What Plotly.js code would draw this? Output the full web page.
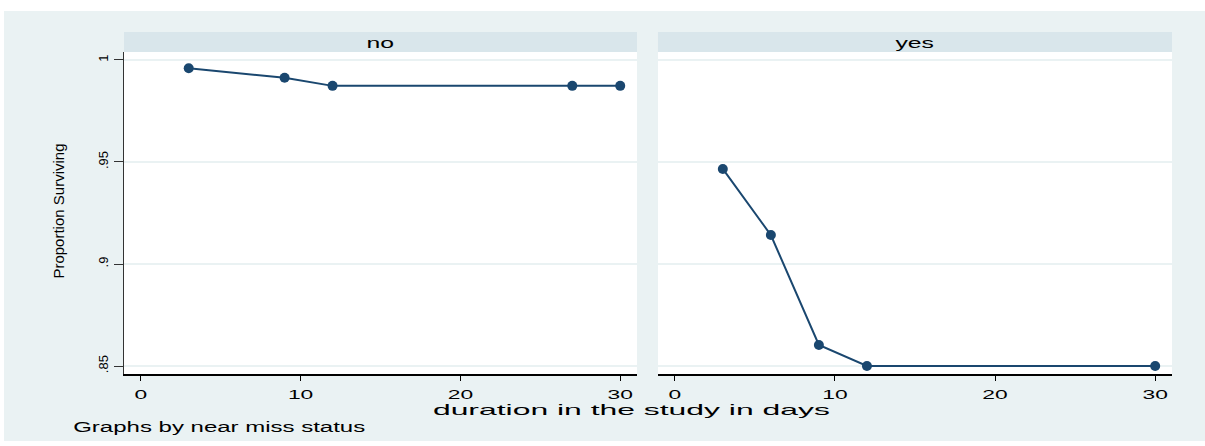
<!DOCTYPE html>
<html>
<head>
<meta charset="utf-8">
<script src="https://cdn.plot.ly/plotly-3.0.1.min.js"></script>
<style>
  html, body { margin: 0; padding: 0; background: #ffffff; }
  #chart { position: absolute; left: 4px; top: 11px; width: 1201px; height: 430px; }
</style>
</head>
<body>
<div id="chart"></div>
<script>
// ---- data ----
const panelNames = ["no", "yes"];
const daysNo = [3, 9, 12, 27, 30];
const survNo = [0.9959, 0.9913, 0.9873, 0.9873, 0.9873];
const daysYes = [3, 6, 9, 12, 30];
const survYes = [0.9466, 0.9142, 0.8603, 0.8500, 0.8500];
const xTickVals = [0, 10, 20, 30];
const yTickVals = [0.85, 0.9, 0.95, 1];
const yTickText = [".85", ".9", ".95", "1"];
const xTitle = "duration in the study in days";
const yTitle = "Proportion Surviving";
const note = "Graphs by near miss status";

const navy = "#1a476f";
const FONT = "Liberation Sans, Arial, Helvetica, sans-serif";

const traces = [
  { x: daysNo, y: survNo, xaxis: "x", yaxis: "y", type: "scatter", mode: "lines+markers",
    line: { color: navy, width: 2 }, marker: { color: navy, size: 10, symbol: "circle" },
    showlegend: false, hoverinfo: "skip" },
  { x: daysYes, y: survYes, xaxis: "x2", yaxis: "y2", type: "scatter", mode: "lines+markers",
    line: { color: navy, width: 2 }, marker: { color: navy, size: 10, symbol: "circle" },
    showlegend: false, hoverinfo: "skip" }
];

const xCommon = {
  range: [-1.05, 31.05], tickvals: xTickVals, ticks: "outside", ticklen: 5, tickwidth: 1,
  tickcolor: "#000", showline: true, linecolor: "#000", linewidth: 1.5, showgrid: false,
  zeroline: false, ticklabelstandoff: 4,
  tickfont: { family: FONT, size: 12, color: "#000" }, fixedrange: true
};
const yCommon = {
  range: [0.8461, 1.0039], tickvals: yTickVals, ticktext: yTickText, zeroline: false,
  showgrid: true, gridcolor: "#eaf2f3", gridwidth: 2, fixedrange: true
};

const layout = {
  width: 1201, height: 430,
  margin: { l: 120, r: 33, t: 41, b: 67 },
  paper_bgcolor: "#eaf2f3", plot_bgcolor: "#ffffff",
  font: { family: FONT, color: "#000" },
  xaxis: Object.assign({}, xCommon, { domain: [0, 0.4895], anchor: "y" }),
  xaxis2: Object.assign({}, xCommon, { domain: [0.5095, 1], anchor: "y2" }),
  yaxis: Object.assign({}, yCommon, {
    anchor: "x", ticks: "outside", ticklen: 9, tickwidth: 1, tickcolor: "#333",
    showline: true, linecolor: "#333", linewidth: 1.5, tickangle: -90,
    tickfont: { family: FONT, size: 13, color: "#000" }
  }),
  yaxis2: Object.assign({}, yCommon, {
    anchor: "x2", matches: "y", showticklabels: false, ticks: "", showline: false
  }),
  shapes: [
    { type: "rect", xref: "x domain", yref: "paper", x0: 0, x1: 1, y0: 1, y1: 1.0621,
      fillcolor: "#d9e6eb", line: { width: 0 }, layer: "below" },
    { type: "rect", xref: "x2 domain", yref: "paper", x0: 0, x1: 1, y0: 1, y1: 1.0621,
      fillcolor: "#d9e6eb", line: { width: 0 }, layer: "below" }
  ],
  annotations: [
    { text: panelNames[0], xref: "x domain", yref: "paper", x: 0.5, y: 1.031,
      xanchor: "center", yanchor: "middle", showarrow: false, font: { family: FONT, size: 15, color: "#000" } },
    { text: panelNames[1], xref: "x2 domain", yref: "paper", x: 0.5, y: 1.031,
      xanchor: "center", yanchor: "middle", showarrow: false, font: { family: FONT, size: 15, color: "#000" } },
    { text: xTitle, xref: "paper", yref: "paper", x: 0.4843, y: -0.1118,
      xanchor: "center", yanchor: "middle", showarrow: false, font: { family: FONT, size: 15, color: "#000" } },
    { text: note, xref: "paper", yref: "paper", x: 0.0906, y: -0.1646,
      xanchor: "center", yanchor: "middle", showarrow: false, font: { family: FONT, size: 14, color: "#000" } },
    { text: yTitle, xref: "paper", yref: "paper", x: -0.0625, y: 0.506, textangle: -90,
      xanchor: "center", yanchor: "middle", showarrow: false, font: { family: FONT, size: 15, color: "#000" } }
  ]
};

Plotly.newPlot("chart", traces, layout, { displayModeBar: false, staticPlot: true }).then(function (gd) {
  // reproduce the horizontally widened lettering of the original export
  function stretch(el, factor, target) {
    if (!el) return;
    const len = el.getComputedTextLength();
    const t = target ? target : len * factor;
    el.setAttribute("textLength", t.toFixed(1));
    el.setAttribute("lengthAdjust", "spacingAndGlyphs");
  }
  gd.querySelectorAll(".xtick text, .x2tick text").forEach(function (el) { stretch(el, 1.9); });
  const ann = gd.querySelectorAll(".annotation-text");
  stretch(ann[0], 1.65);
  stretch(ann[1], 1.65);
  stretch(ann[2], 0, 397);
  stretch(ann[3], 0, 292);
});
</script>
</body>
</html>
